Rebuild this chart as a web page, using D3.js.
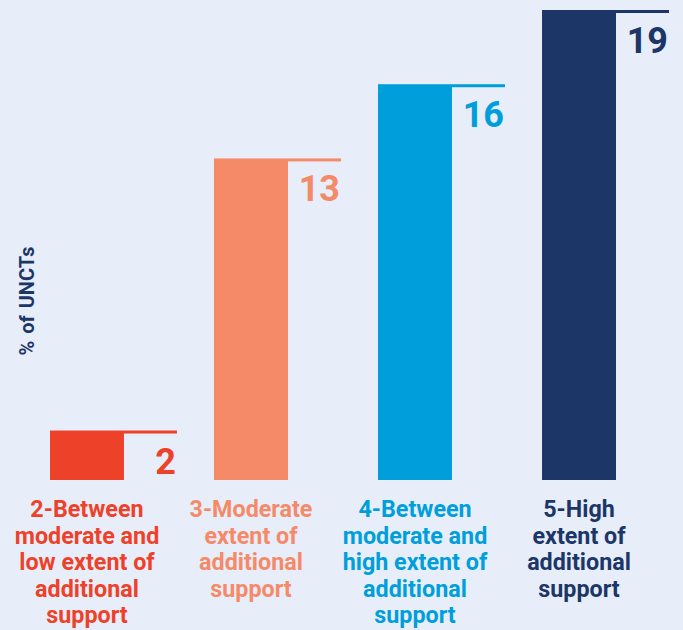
<!DOCTYPE html>
<html>
<head>
<meta charset="utf-8">
<script src="https://cdn.jsdelivr.net/npm/d3@7"></script>
<style>
  html, body { margin: 0; padding: 0; background: #e7eef9; }
  svg { display: block; font-family: Roboto, "Noto Sans", sans-serif; }
</style>
</head>
<body>
<svg id="chart" width="683" height="630"></svg>
<script>
const categories = ["2", "3", "4", "5"];
const values = [2, 13, 16, 19];
const labelLines = [
  ["2-Between", "moderate and", "low extent of", "additional", "support"],
  ["3-Moderate", "extent of", "additional", "support"],
  ["4-Between", "moderate and", "high extent of", "additional", "support"],
  ["5-High", "extent of", "additional", "support"]
];
const colors = ["#ee412a", "#f58a69", "#009edb", "#1c3668"];
const yAxisTitle = "% of UNCTs";

const svg = d3.select("#chart");
svg.append("rect").attr("width", 683).attr("height", 630).attr("fill", "#e7eef9");

const x = d3.scaleBand().domain(categories).range([50, 616]).paddingInner(0.549).paddingOuter(0);
const y = d3.scaleLinear().domain([0, 19]).range([480, 10]);
const bw = x.bandwidth();

const g = svg.append("g");
const items = categories.map((c, i) => ({c, v: values[i], col: colors[i], lines: labelLines[i]}));

g.selectAll("rect.bar").data(items).join("rect")
  .attr("class", "bar")
  .attr("x", d => x(d.c)).attr("width", bw)
  .attr("y", d => y(d.v)).attr("height", d => y(0) - y(d.v))
  .attr("fill", d => d.col);

g.selectAll("rect.tick").data(items).join("rect")
  .attr("class", "tick")
  .attr("x", d => x(d.c) + bw).attr("width", 53)
  .attr("y", d => y(d.v)).attr("height", 3)
  .attr("fill", d => d.col);

g.selectAll("text.val").data(items).join("text")
  .attr("class", "val")
  .attr("x", d => x(d.c) + bw + 52)
  .attr("y", d => y(d.v) + 43)
  .attr("text-anchor", "end")
  .attr("font-size", 36).attr("font-weight", 700)
  .attr("fill", d => d.col)
  .text(d => d.v);

const lab = g.selectAll("text.cat").data(items).join("text")
  .attr("class", "cat")
  .attr("x", d => x(d.c) + bw / 2)
  .attr("y", 517)
  .attr("text-anchor", "middle")
  .attr("font-size", 23.3).attr("font-weight", 700)
  .attr("fill", d => d.col);
lab.selectAll("tspan").data(d => d.lines.map(t => ({t, x: x(d.c) + bw / 2}))).join("tspan")
  .attr("x", d => d.x)
  .attr("dy", (d, i) => i === 0 ? 0 : 26.5)
  .text(d => d.t);

svg.append("text")
  .attr("transform", "translate(34,301) rotate(-90)")
  .attr("text-anchor", "middle")
  .attr("font-size", 20).attr("font-weight", 700)
  .attr("word-spacing", 2)
  .attr("fill", "#1c3668")
  .text(yAxisTitle);
</script>
</body>
</html>
